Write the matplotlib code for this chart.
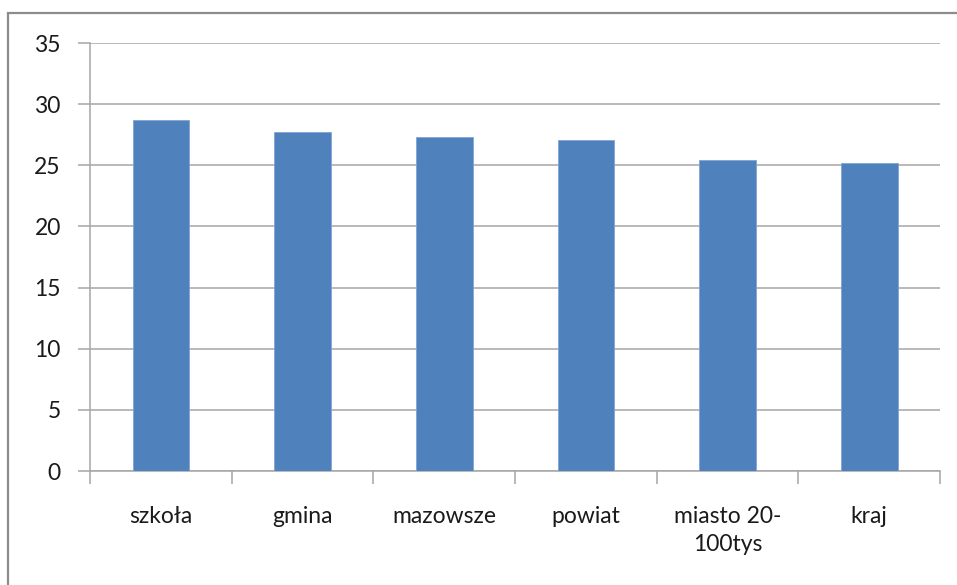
import matplotlib.pyplot as plt
from matplotlib.patches import Rectangle

# data
categories = ['szkoła', 'gmina', 'mazowsze', 'powiat', 'miasto 20-\n100tys', 'kraj']
values = [28.7, 27.7, 27.3, 27.1, 25.4, 25.2]
yticks = [0, 5, 10, 15, 20, 25, 30, 35]

plt.rcParams['font.family'] = ['Lato', 'DejaVu Sans']

W, H = 957, 585
fig = plt.figure(figsize=(W / 100, H / 100), dpi=100)

# outer chart frame (runs off right and bottom edges)
fig.patches.append(Rectangle((8 / W, -0.1), 1.2, 1 - 13 / H + 0.1,
                             transform=fig.transFigure, fill=False,
                             edgecolor='#8c8c8c', linewidth=1.6))

left, right, top, bottom = 90, 940, 43, 471
ax = fig.add_axes([left / W, 1 - bottom / H, (right - left) / W, (bottom - top) / H])

x = range(len(categories))
ax.bar(x, values, width=0.4, color='#4F81BD', edgecolor='#7fa4d3', linewidth=0.6, zorder=3)

ax.set_xlim(-0.5, len(categories) - 0.5)
ax.set_ylim(0, 35)
ax.set_yticks(yticks)
ax.set_yticklabels([str(v) for v in yticks], fontsize=16.5, color='#1a1a1a')
ax.yaxis.grid(True, color='#a6a6a6', linewidth=1.1, zorder=0)

# category labels at centres, tick marks at boundaries
ax.set_xticks(list(x))
ax.set_xticklabels(categories, fontsize=16.5, color='#1a1a1a', linespacing=1.45)
ax.tick_params(axis='x', length=0, pad=25)
ax.set_xticks([i - 0.5 for i in range(len(categories) + 1)], minor=True)
ax.tick_params(axis='x', which='minor', length=9, color='#a6a6a6', width=1.1)
ax.tick_params(axis='y', length=9, color='#a6a6a6', width=1.1, pad=12)

for s in ['top', 'right']:
    ax.spines[s].set_visible(False)
for s in ['left', 'bottom']:
    ax.spines[s].set_color('#a6a6a6')
    ax.spines[s].set_linewidth(1.1)

fig.savefig('out.png', dpi=100)
